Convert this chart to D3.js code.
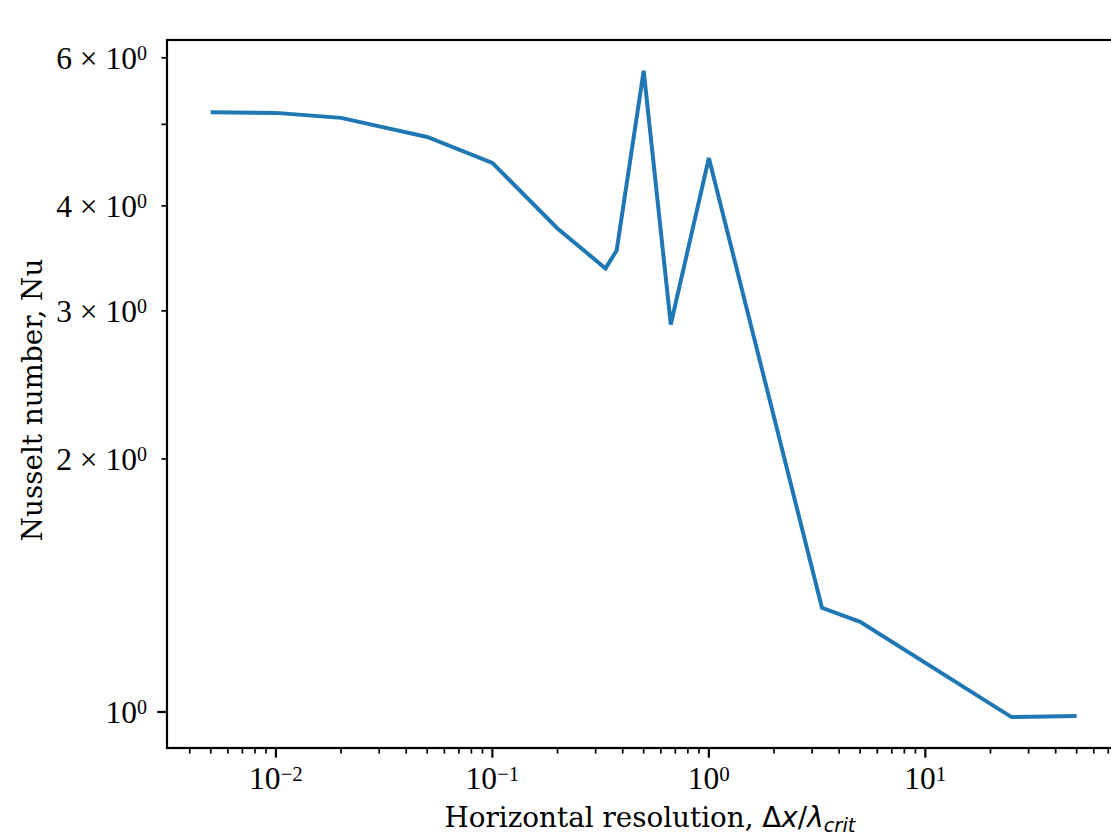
<!DOCTYPE html>
<html>
<head>
<meta charset="utf-8">
<script src="https://cdn.jsdelivr.net/npm/d3@7"></script>
<style>
  body { margin: 0; background: #fff; }
  svg { display: block; }
  text { font-family: "DejaVu Serif", serif; fill: #000; }
  .tick { font-family: "Liberation Serif", serif; }
  .math { font-family: "DejaVu Sans", sans-serif; }
</style>
</head>
<body>
<svg id="chart" width="1111" height="834"></svg>
<script>
// horizontal resolution dx/lambda_crit and Nusselt number
var resolution = [0.005, 0.01, 0.02, 0.05, 0.1, 0.2, 0.333, 0.375, 0.5, 0.667, 1.0, 3.33, 5.0, 25, 50];
var nusselt    = [5.17, 5.16, 5.09, 4.83, 4.50, 3.76, 3.37, 3.54, 5.79, 2.89, 4.56, 1.33, 1.28, 0.986, 0.989];

var xMajor = [0.01, 0.1, 1, 10];
var xMajorExp = ["\u22122", "\u22121", "0", "1"];
var yTicks = [1, 2, 3, 4, 5, 6];
var yTickMant = ["", "2", "3", "4", "", "6"];

var svg = d3.select("#chart");

var plotLeft = 167, plotRight = 1120, plotTop = 40, plotBottom = 748;

var x = d3.scaleLog().domain([0.00314, 79.3]).range([plotLeft, plotRight]);
var y = d3.scaleLog().domain([0.906, 6.30]).range([plotBottom, plotTop]);

// x minor ticks
var xMinor = [];
[0.001, 0.01, 0.1, 1, 10].forEach(function(d) {
    for (var k = 2; k <= 9; k++) {
        var v = d * k;
        if (v > x.domain()[0] && v < x.domain()[1]) xMinor.push(v);
    }
});

var g = svg.append("g");

g.selectAll("line.xminor")
    .data(xMinor)
    .enter()
    .append("line")
    .attr("x1", function(d) { return x(d); })
    .attr("x2", function(d) { return x(d); })
    .attr("y1", plotBottom)
    .attr("y2", plotBottom + 5.6)
    .attr("stroke", "#000")
    .attr("stroke-width", 1.7);

g.selectAll("line.xmajor")
    .data(xMajor)
    .enter()
    .append("line")
    .attr("x1", function(d) { return x(d); })
    .attr("x2", function(d) { return x(d); })
    .attr("y1", plotBottom)
    .attr("y2", plotBottom + 9.7)
    .attr("stroke", "#000")
    .attr("stroke-width", 2.2);

var xl = g.selectAll("text.xlab")
    .data(xMajor)
    .enter()
    .append("text")
    .attr("class", "tick")
    .attr("x", function(d) { return x(d); })
    .attr("y", 789)
    .attr("text-anchor", "middle")
    .style("font-size", "31.5px");
xl.append("tspan").text("10");
xl.append("tspan")
    .attr("dy", -8)
    .style("font-size", "21px")
    .text(function(d, i) { return xMajorExp[i]; });

// y ticks
g.selectAll("line.ytick")
    .data(yTicks)
    .enter()
    .append("line")
    .attr("x1", function(d) { if (d == 1) return plotLeft - 9.7; return plotLeft - 5.6; })
    .attr("x2", plotLeft)
    .attr("y1", function(d) { return y(d); })
    .attr("y2", function(d) { return y(d); })
    .attr("stroke", "#000")
    .attr("stroke-width", function(d) { if (d == 1) return 2.2; return 1.7; });

var yl = g.selectAll("text.ylab")
    .data(yTicks.filter(function(d, i) { return d == 1 || yTickMant[i] != ""; }))
    .enter()
    .append("text")
    .attr("class", "tick")
    .attr("x", 147)
    .attr("y", function(d) { return y(d) + 11; })
    .attr("text-anchor", "end")
    .style("font-size", "31.5px");
yl.append("tspan").text(function(d) {
    var m = yTickMant[yTicks.indexOf(d)];
    if (m == "") return "10";
    return m + " \u00d7 10";
});
yl.append("tspan")
    .attr("dy", -9)
    .style("font-size", "20px")
    .text("0");

// line
var line = d3.line()
    .x(function(d, i) { return x(resolution[i]); })
    .y(function(d) { return y(d); });

svg.append("path")
    .datum(nusselt)
    .attr("d", line)
    .attr("fill", "none")
    .attr("stroke", "#1f77b4")
    .attr("stroke-width", 4)
    .attr("stroke-linejoin", "miter");

// spines
svg.append("rect")
    .attr("x", plotLeft)
    .attr("y", plotTop)
    .attr("width", plotRight - plotLeft)
    .attr("height", plotBottom - plotTop)
    .attr("fill", "none")
    .attr("stroke", "#000")
    .attr("stroke-width", 2.2);

// axis labels
var xt = svg.append("text")
    .attr("x", 650)
    .attr("y", 827)
    .attr("text-anchor", "middle")
    .style("font-size", "27.8px");
xt.append("tspan").text("Horizontal resolution, ");
xt.append("tspan").attr("class", "math").text("\u0394");
xt.append("tspan").attr("class", "math").style("font-style", "italic").text("x");
xt.append("tspan").attr("class", "math").text("/");
xt.append("tspan").attr("class", "math").style("font-style", "italic").text("\u03bb");
xt.append("tspan").attr("class", "math").style("font-style", "italic")
    .style("font-size", "19.5px").attr("dy", 5).text("crit");

svg.append("text")
    .attr("transform", "translate(42,400) rotate(-90)")
    .attr("text-anchor", "middle")
    .style("font-size", "27.8px")
    .text("Nusselt number, Nu");
</script>
</body>
</html>
